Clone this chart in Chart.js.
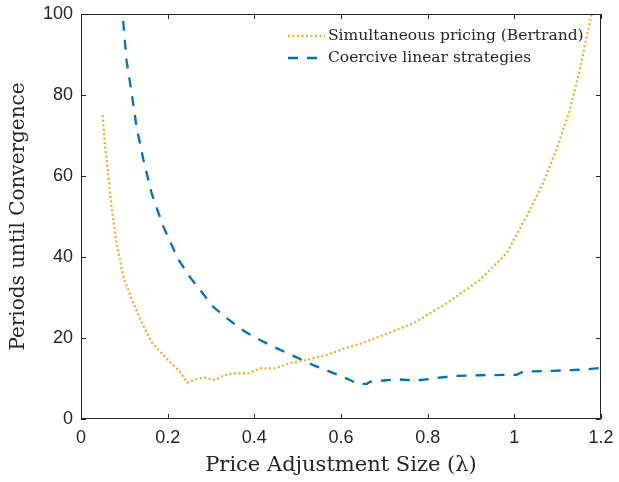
<!DOCTYPE html>
<html>
<head>
<meta charset="utf-8">
<script src="https://cdn.jsdelivr.net/npm/chart.js@4.4.1/dist/chart.umd.min.js"></script>
<style>
html,body{margin:0;padding:0;background:#fff;}
#wrap{width:619px;height:482px;}
</style>
</head>
<body>
<div id="wrap"><canvas id="c" width="619" height="482"></canvas></div>
<script>
// ---- data ----
const bertrandLambda = [0.05,0.055,0.063,0.071,0.082,0.098,0.121,0.144,0.163,0.175,0.209,0.228,0.245,0.27,0.286,0.309,0.33,0.351,0.386,0.413,0.448,0.482,0.521,0.567,0.613,0.651,0.69,0.767,0.844,0.92,0.982,1.028,1.066,1.097,1.128,1.151,1.17,1.185];
const bertrandPeriods = [75,68,60,52,43.5,35,28.5,23,19,17.5,13.7,11.7,9.0,10.0,10.2,9.6,10.8,11.3,11.3,12.5,12.5,13.8,14.6,15.8,17.6,18.8,20.4,23.6,28.6,34.3,40.9,50,58.2,66.4,76.3,86.2,96,103];
const coerciveLambda = [0.094,0.096,0.105,0.117,0.128,0.144,0.163,0.19,0.224,0.251,0.278,0.305,0.34,0.378,0.413,0.451,0.494,0.536,0.574,0.613,0.64,0.66,0.667,0.728,0.774,0.813,0.859,0.92,0.982,1.005,1.02,1.09,1.159,1.2];
const coercivePeriods = [103,100,88.6,80.4,72.2,64,55.7,47.5,39.5,35.1,31.4,27.7,24.6,21.6,19.5,17.5,15.4,13.3,11.7,10.0,8.6,8.7,9.2,9.8,9.5,10.0,10.6,10.8,10.9,10.9,11.7,11.9,12.2,12.6];
const seriesLabels = ['Simultaneous pricing (Bertrand)','Coercive linear strategies'];
const xTicks = [0,0.2,0.4,0.6,0.8,1,1.2];
const yTicks = [0,20,40,60,80,100];
const xTitle = 'Price Adjustment Size (\u03BB)';
const yTitle = 'Periods until Convergence';

const toPts = (xs, ys) => xs.map((x, i) => ({x: x, y: ys[i]}));
const AX = '#262626';
const ORANGE = '#EDB120';
const BLUE = '#0072BD';
const SERIF = '"DejaVu Serif", serif';

const boxPlugin = {
  id: 'box',
  afterDraw(chart) {
    const {ctx, chartArea: a, scales} = chart;
    ctx.save();
    ctx.strokeStyle = AX;
    ctx.lineWidth = 1;
    ctx.beginPath();
    ctx.rect(a.left + 0.5, a.top + 0.5, a.right - a.left - 1, a.bottom - a.top - 1);
    const L = 5;
    scales.x.ticks.forEach(t => {
      const px = Math.round(scales.x.getPixelForValue(t.value)) + 0.5;
      ctx.moveTo(px, a.bottom); ctx.lineTo(px, a.bottom - L);
      ctx.moveTo(px, a.top); ctx.lineTo(px, a.top + L);
    });
    scales.y.ticks.forEach(t => {
      const py = Math.round(scales.y.getPixelForValue(t.value)) + 0.5;
      ctx.moveTo(a.left, py); ctx.lineTo(a.left + L, py);
      ctx.moveTo(a.right, py); ctx.lineTo(a.right - L, py);
    });
    ctx.stroke();
    // legend inside the axes (north-east)
    const items = chart.data.datasets;
    const x0 = 288, x1 = 325, tx = 328;
    const rowsY = [36, 58];
    ctx.font = '15.5px ' + SERIF;
    ctx.textBaseline = 'middle';
    ctx.textAlign = 'left';
    items.forEach((ds, i) => {
      const y = rowsY[i];
      ctx.beginPath();
      ctx.strokeStyle = ds.borderColor;
      ctx.lineWidth = ds.borderWidth;
      ctx.setLineDash(ds.borderDash);
      ctx.moveTo(x0, y); ctx.lineTo(x1, y);
      ctx.stroke();
      ctx.setLineDash([]);
      ctx.fillStyle = AX;
      ctx.fillText(ds.label, tx, y);
    });
    ctx.restore();
  }
};

const zeroPad = s => { s.paddingLeft = 0; s.paddingRight = 0; s.paddingTop = 0; s.paddingBottom = 0; };

new Chart(document.getElementById('c'), {
  type: 'line',
  data: {
    datasets: [
      {label: seriesLabels[0], data: toPts(bertrandLambda, bertrandPeriods), borderColor: ORANGE, borderWidth: 2.3, borderDash: [2, 2.5], pointRadius: 0, fill: false, tension: 0, clip: 0},
      {label: seriesLabels[1], data: toPts(coerciveLambda, coercivePeriods), borderColor: BLUE, borderWidth: 2.3, borderDash: [10, 9], pointRadius: 0, fill: false, tension: 0, clip: 0}
    ]
  },
  options: {
    responsive: false,
    animation: false,
    devicePixelRatio: 1,
    layout: {padding: {left: 0, top: 14, right: 18, bottom: 0}},
    plugins: {legend: {display: false}, tooltip: {enabled: false}},
    scales: {
      x: {
        type: 'linear', min: 0, max: 1.2,
        afterBuildTicks: s => { s.ticks = xTicks.map(v => ({value: v})); },
        afterFit: s => { s.height = 63; zeroPad(s); },
        grid: {display: false, drawTicks: false},
        border: {display: false},
        ticks: {color: AX, font: {family: '"Liberation Sans", Arial, sans-serif', size: 18}, padding: 8, maxRotation: 0,
          callback: v => String(Number(v.toFixed(1)))},
        title: {display: true, text: xTitle, color: AX, font: {family: SERIF, size: 21}, padding: {top: 0, bottom: 4}}
      },
      y: {
        type: 'linear', min: 0, max: 100,
        afterBuildTicks: s => { s.ticks = yTicks.map(v => ({value: v})); },
        afterFit: s => { s.width = 81; zeroPad(s); },
        grid: {display: false, drawTicks: false},
        border: {display: false},
        ticks: {color: AX, font: {family: '"Liberation Sans", Arial, sans-serif', size: 18}, padding: 8},
        title: {display: true, text: yTitle, color: AX, font: {family: SERIF, size: 20}, padding: {top: 7, bottom: 0}}
      }
    }
  },
  plugins: [boxPlugin]
});
</script>
</body>
</html>
